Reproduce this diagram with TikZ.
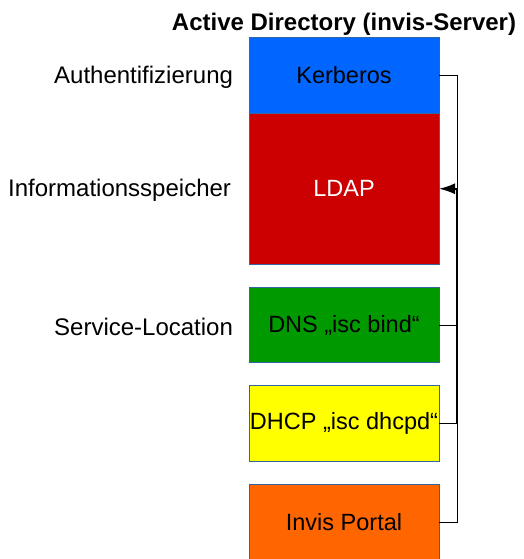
\documentclass[tikz,border=0pt]{standalone}
\usepackage{fontspec}
\setmainfont{Liberation Sans}
\usepackage{tikz}
\usetikzlibrary{arrows,arrows.meta}
\usetikzlibrary{positioning}
\definecolor{kerbblue}{HTML}{0066FF}
\definecolor{ldapred}{HTML}{CC0000}
\definecolor{dnsgreen}{HTML}{009900}
\definecolor{dhcpyellow}{HTML}{FFFF00}
\definecolor{portalorange}{HTML}{FF6600}
\definecolor{frame}{HTML}{3465A4}
\tikzstyle{service} = [rectangle, minimum width=190pt, minimum height=75.5pt, inner xsep=0pt, outer sep=0pt, text centered, draw=frame, line width=0.8pt, font=\fontsize{23.5}{28}\selectfont]
\tikzstyle{role} = [font=\fontsize{24}{28}\selectfont, yshift=-1.5pt]
\tikzstyle{heading} = [font=\fontsize{24}{28}\selectfont\bfseries]
\tikzstyle{link} = [line width=1pt]

\begin{document}
\begin{tikzpicture}[x=1pt, y=-1pt, node distance=23pt]
 \useasboundingbox (0,0) rectangle (524,559);

 \node (kerberos) [service, fill=kerbblue] at (344,75.5) {Kerberos};
 \node (ldap) [service, fill=ldapred, text=white, minimum height=151pt, below=0pt of kerberos] {LDAP};
 \node (dns) [service, fill=dnsgreen, below=of ldap] {DNS „isc bind“};
 \node (dhcp) [service, fill=dhcpyellow, below=of dns] {DHCP „isc dhcpd“};
 \node (portal) [service, fill=portalorange, below=of dhcp] {Invis Portal};

 \node (title) [heading, above=-1pt of kerberos] {Active Directory (invis-Server)};
 \node (auth) [role, left=12.5pt of kerberos] {Authentifizierung};
 \node (info) [role, left=14.5pt of ldap] {Informationsspeicher};
 \node (location) [role, left=12.5pt of dns] {Service-Location};

 \coordinate (bus) at ([xshift=18pt]ldap.east);
 \draw[link] (kerberos.east) -| (bus);
 \draw[link] (dns.east) -| (bus);
 \draw[link] (portal.east) -| (bus);
 \draw[link, line width=1.8pt, -{Latex[length=16pt,width=11pt]}] (dhcp.east) -| (bus) -- (ldap.east);
\end{tikzpicture}
\end{document}
